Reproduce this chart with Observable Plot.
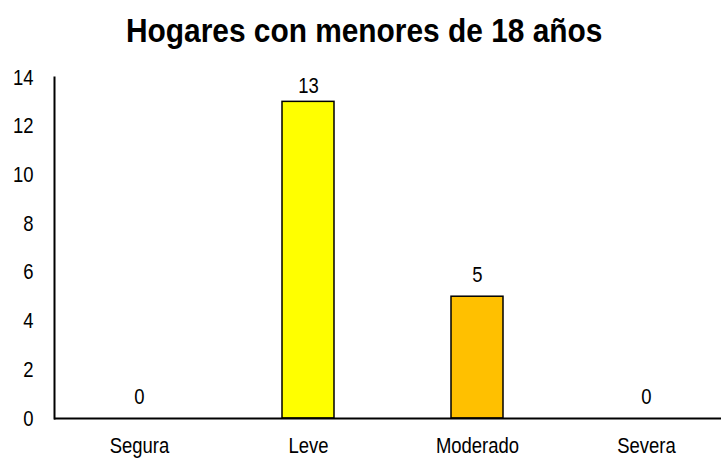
<!DOCTYPE html>
<html>
<head>
<meta charset="utf-8">
<script src="https://cdn.jsdelivr.net/npm/d3@7"></script>
<script src="https://cdn.jsdelivr.net/npm/@observablehq/plot@0.6"></script>
<style>
  html, body { margin: 0; padding: 0; background: #fff; }
  #title { height: 58px; line-height: 61px; text-align: center; font-family: "Liberation Sans", Arial, sans-serif; font-weight: bold; font-size: 33px; color: #000; padding-left: 8px; white-space: nowrap; }
  #title span { display: inline-block; transform: scaleX(0.905); transform-origin: center; }
</style>
</head>
<body>
<div id="title"><span>Hogares con menores de 18 años</span></div>
<div id="chart"></div>
<script>
const categories = ["Segura", "Leve", "Moderado", "Severa"];
const values = [0, 13, 5, 0];
const colors = ["#FFFF00", "#FFFF00", "#FFC000", "#FFC000"];
const yTicks = [0, 2, 4, 6, 8, 10, 12, 14];

const data = categories.map((c, i) => ({cat: c, value: values[i], color: colors[i]}));
const font = "'Liberation Sans', Arial, sans-serif";
const fs = 22;

const chart = Plot.plot({
  width: 721,
  height: 401,
  marginTop: 19,
  marginBottom: 41,
  marginLeft: 54,
  marginRight: 0,
  style: {fontFamily: font, fontSize: fs + "px", color: "#000", background: "#fff"},
  x: {domain: categories, range: [55, 731], paddingInner: 0.69, paddingOuter: 0.345, label: null},
  y: {domain: [0, 14], label: null},
  marks: [
    Plot.barY(data.filter(d => d.value > 0), {x: "cat", y: "value", fill: "color", stroke: "#000", strokeWidth: 1.5}),
    // labels that fit above the bar
    Plot.text(data.filter(d => d.value < 12), {x: "cat", y: "value", text: d => String(d.value), dy: -22, fontSize: fs, fill: "#000"}),
    // labels pushed down by the top of the plot area
    Plot.text(data.filter(d => d.value >= 12), {x: "cat", y: "value", text: d => String(d.value), dy: -16, fontSize: fs, fill: "#000"}),
    Plot.axisY({ticks: yTicks, tickSize: 0, tickPadding: 21, fontSize: fs, label: null}),
    Plot.axisX({tickSize: 0, tickPadding: 19, fontSize: fs, label: null}),
    Plot.frame({anchor: "left", strokeWidth: 2}),
    Plot.ruleY([0], {strokeWidth: 2})
  ]
});
// condense the text horizontally (narrow typeface look), keeping each anchor fixed
d3.select(chart).selectAll("text").each(function() {
  const t = this.getAttribute("transform") || "";
  this.setAttribute("transform", t + " scale(0.84,1)");
});
document.getElementById("chart").appendChild(chart);
</script>
</body>
</html>
